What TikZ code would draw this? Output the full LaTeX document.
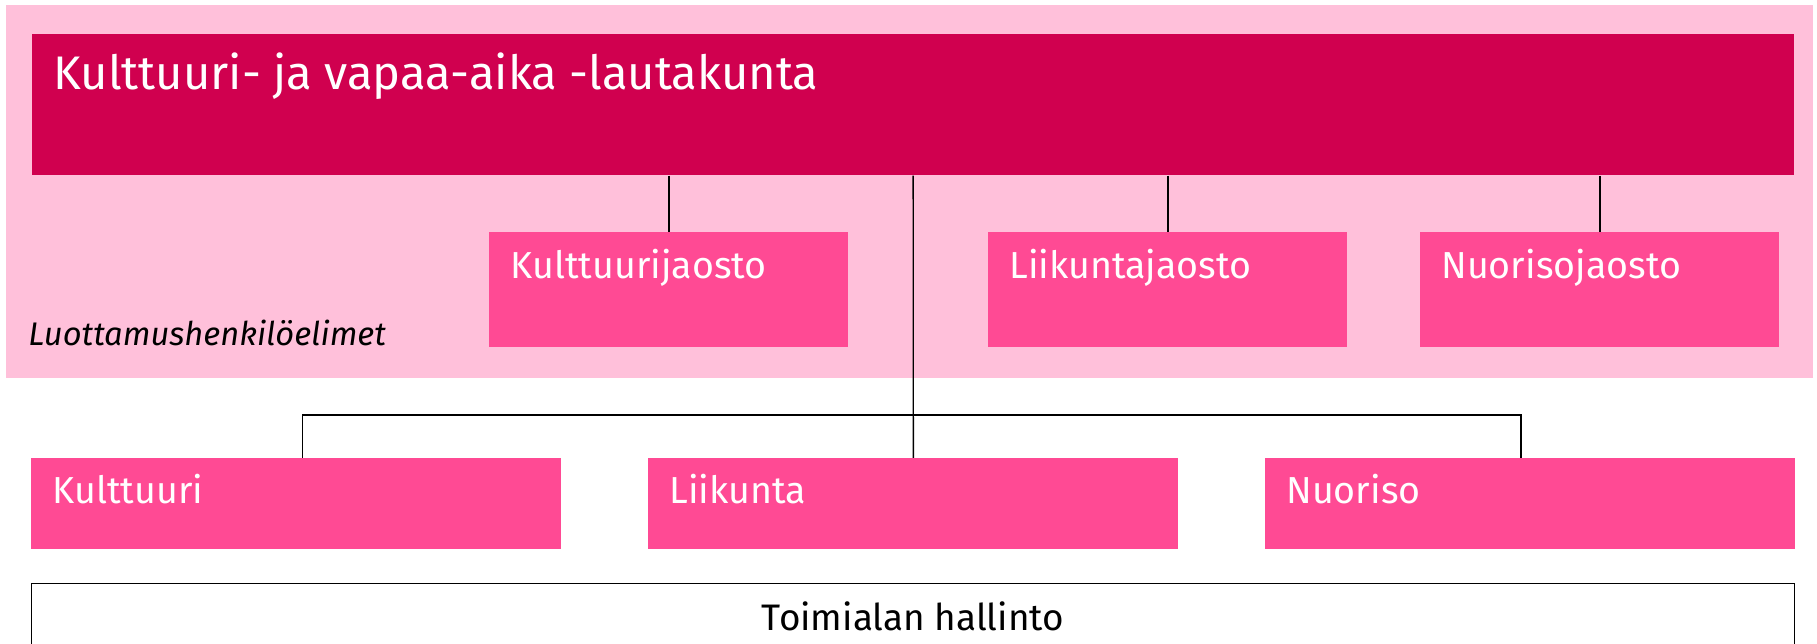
\documentclass[tikz,border=0pt]{standalone}
\usepackage{fontspec}
\setmainfont{Fira Sans}
\usetikzlibrary{positioning}
\definecolor{taust}{HTML}{FFC0DA}
\definecolor{tumma}{HTML}{D0004F}
\definecolor{vaalea}{HTML}{FF4A94}

\tikzset{
  jaosto/.style={anchor=north west, fill=vaalea, inner sep=0pt, minimum width=7.18cm, minimum height=2.3cm},
  yksikko/.style={anchor=north west, fill=vaalea, inner sep=0pt, minimum width=10.6cm, minimum height=1.82cm},
  teksti/.style={anchor=base west, inner sep=0pt, text=white, font=\fontsize{21.4}{25}\selectfont},
  viiva/.style={draw=black, line width=0.8pt}
}

\begin{document}
\begin{tikzpicture}[x=0.02cm, y=-0.02cm]
\clip (0,0) rectangle (1817,644);
\fill[taust] (6,5) rectangle (1813,378);

\node (lauta) at (32,34) [anchor=north west, fill=tumma, inner sep=0pt, minimum width=35.24cm, minimum height=2.82cm] {};
\node (kjaos) at (489,232) [jaosto] {};
\node (ljaos) at (988,232) [jaosto] {};
\node (njaos) at (1420,232) [jaosto] {};
\node (kult) at (31,458) [yksikko] {};
\node (liik) at (648,458) [yksikko] {};
\node (nuor) at (1265,458) [yksikko] {};
\node (hall) at (31,583) [anchor=north west, draw=black, line width=0.8pt, inner sep=0pt, minimum width=35.26cm, minimum height=2.5cm] {};

% tekstit
\node (tlauta) at ([shift={(21,56)}]lauta.north west) [teksti, font=\fontsize{26.8}{32}\selectfont] {Kulttuuri- ja vapaa-aika -lautakunta};
\node (tkjaos) at ([shift={(21,47)}]kjaos.north west) [teksti] {Kulttuurijaosto};
\node (tljaos) at ([shift={(21,47)}]ljaos.north west) [teksti] {Liikuntajaosto};
\node (tnjaos) at ([shift={(21,47)}]njaos.north west) [teksti] {Nuorisojaosto};
\node (tkult) at ([shift={(21,45)}]kult.north west) [teksti] {Kulttuuri};
\node (tliik) at ([shift={(21,45)}]liik.north west) [teksti] {Liikunta};
\node (tnuor) at ([shift={(21,45)}]nuor.north west) [teksti] {Nuoriso};
\node (thall) at (913,630) [anchor=base, inner sep=0pt, font=\fontsize{21}{25}\selectfont] {Toimialan hallinto};
\node (luott) at (28,346) [anchor=base west, inner sep=0pt, font=\fontsize{18.6}{22}\selectfont\itshape] {Luottamushenkilöelimet};

\coordinate (haara) at (913,415);
\draw [viiva] (lauta.south -| kjaos.north) -- (kjaos.north);
\draw [viiva] (lauta.south -| ljaos.north) -- (ljaos.north);
\draw [viiva] (lauta.south -| njaos.north) -- (njaos.north);
\draw [viiva] (lauta.south) -- (liik.north);
\draw [viiva] ([xshift=0.12cm]kult.north) |- (haara) -| ([xshift=-0.19cm]nuor.north);

\end{tikzpicture}
\end{document}
